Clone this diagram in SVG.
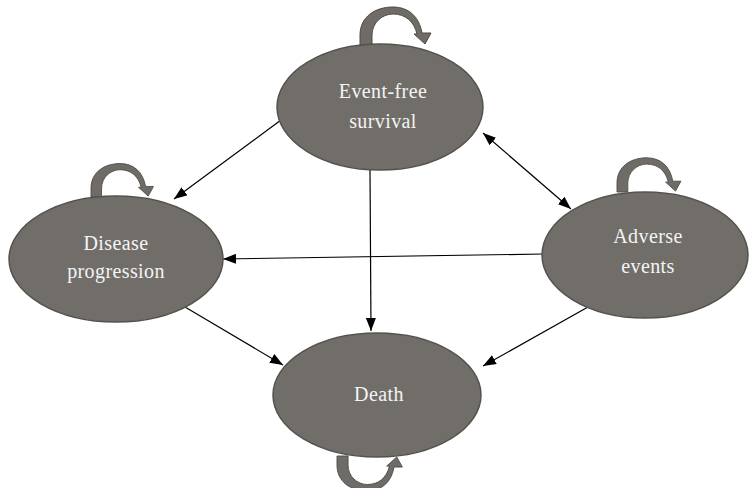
<svg xmlns="http://www.w3.org/2000/svg" width="749" height="488" viewBox="0 0 749 488">
<defs>
<style>
.node{fill:#716e6a;stroke:#55524e;stroke-width:1.5}
.lbl{font-family:'Liberation Serif','Times New Roman',serif;font-size:20px;fill:#f4f4f4;text-anchor:middle;letter-spacing:0.4px}
.edge{stroke:#000;stroke-width:1.2;fill:none}
.loop{fill:#6f6c68;stroke:#4e4b47;stroke-width:1}
</style>
<marker id="ah" markerUnits="userSpaceOnUse" markerWidth="14" markerHeight="10" refX="13" refY="5" orient="auto-start-reverse">
<path d="M0,0 L13,5 L0,10 z" fill="#000"/>
</marker>
<path id="loopShape" d="M 0 0 L 0 -10 C 0 -28 15 -38 33 -38 C 48 -38 59 -29 62 -12 L 71 -12 L 65 -1 L 54 -11 L 57 -11 C 54 -24 45 -31 33 -31 C 22 -31 12 -22 12 -10 L 12 0 Z"/>
</defs>
<rect width="749" height="488" fill="#fff"/>
<g id="connectors">
<line class="edge" x1="281" y1="120" x2="174" y2="199" marker-end="url(#ah)"/>
<line class="edge" x1="370" y1="170" x2="371" y2="331" marker-end="url(#ah)"/>
<line class="edge" x1="483" y1="133" x2="571" y2="209" marker-start="url(#ah)" marker-end="url(#ah)"/>
<line class="edge" x1="543" y1="254" x2="223" y2="259" marker-end="url(#ah)"/>
<line class="edge" x1="185" y1="307" x2="283" y2="365" marker-end="url(#ah)"/>
<line class="edge" x1="588" y1="307" x2="483" y2="366" marker-end="url(#ah)"/>
</g>
<g id="loops">
<use href="#loopShape" class="loop" transform="translate(360,45)"/>
<use href="#loopShape" class="loop" transform="translate(91,197) scale(0.88)"/>
<use href="#loopShape" class="loop" transform="translate(617,192) scale(0.9)"/>
<use href="#loopShape" class="loop" transform="translate(337,456) scale(0.92,-0.92)"/>
</g>
<g font-family="Liberation Serif, serif">
<g id="efs">
<ellipse class="node" cx="380" cy="107" rx="103" ry="63"/>
<text class="lbl" x="383" y="98">Event-free</text>
<text class="lbl" x="383" y="128">survival</text>
</g>
<g id="dp">
<ellipse class="node" cx="116" cy="259" rx="107" ry="63"/>
<text class="lbl" x="116" y="250">Disease</text>
<text class="lbl" x="116" y="278">progression</text>
</g>
<g id="ae">
<ellipse class="node" cx="645" cy="255" rx="103" ry="63"/>
<text class="lbl" x="648" y="243">Adverse</text>
<text class="lbl" x="648" y="273">events</text>
</g>
<g id="death">
<ellipse class="node" cx="377" cy="395" rx="104" ry="62"/>
<text class="lbl" x="379" y="401">Death</text>
</g>
</g>
</svg>
